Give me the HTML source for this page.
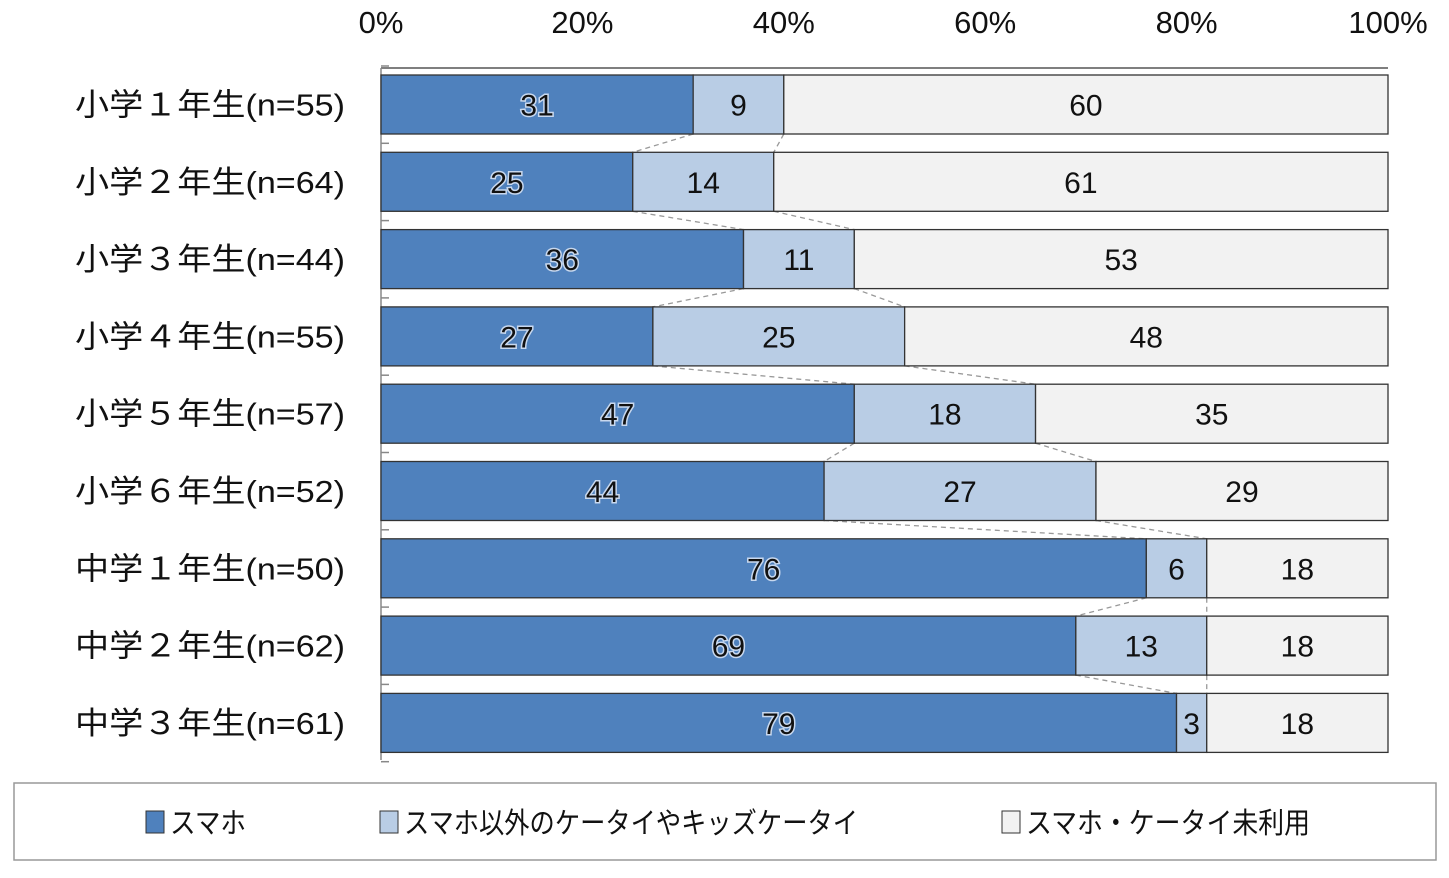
<!DOCTYPE html>
<html><head><meta charset="utf-8"><style>
body{margin:0;background:#fff;}
svg text{font-family:"Liberation Sans","Noto Sans CJK JP",sans-serif;}
</style></head><body>
<svg id="chart" width="1449" height="873" viewBox="0 0 1449 873" xmlns="http://www.w3.org/2000/svg">
<g id="plot"></g>
<g>
<rect x="14" y="783" width="1422" height="77" fill="#fff" stroke="#999" stroke-width="1.5"/>
<g><rect x="146" y="811" width="18" height="22" fill="#4f81bd" stroke="#333"/><text x="170" y="833" font-size="29" fill="#111" textLength="76" lengthAdjust="spacingAndGlyphs">スマホ</text></g>
<g><rect x="380" y="811" width="18" height="22" fill="#b9cde5" stroke="#333"/><text x="404" y="833" font-size="29" fill="#111" textLength="454" lengthAdjust="spacingAndGlyphs">スマホ以外のケータイやキッズケータイ</text></g>
<g><rect x="1002" y="811" width="18" height="22" fill="#f2f2f2" stroke="#333"/><text x="1026" y="833" font-size="29" fill="#111" textLength="284" lengthAdjust="spacingAndGlyphs">スマホ・ケータイ未利用</text></g>
</g>
</svg>
<script>
const categories=["小学１年生(n=55)","小学２年生(n=64)","小学３年生(n=44)","小学４年生(n=55)","小学５年生(n=57)","小学６年生(n=52)","中学１年生(n=50)","中学２年生(n=62)","中学３年生(n=61)"];
const smartphone=[31,25,36,27,47,44,76,69,79];
const otherPhone=[9,14,11,25,18,27,6,13,3];
const noPhone=[60,61,53,48,35,29,18,18,18];
const ticks=[0,20,40,60,80,100];
const tickLabels=["0%","20%","40%","60%","80%","100%"];

const NS="http://www.w3.org/2000/svg";
const g=document.getElementById('plot');
const X0=381,X1=1388,Y0=75,STEP=77.3,BH=59;
const x=v=>X0+(X1-X0)*v/100;
const y=i=>Y0+i*STEP;
function mk(t,a){const e=document.createElementNS(NS,t);for(const k in a)e.setAttribute(k,a[k]);g.appendChild(e);return e;}

let ax=mk('line',{x1:X0,y1:68,x2:X1,y2:68,stroke:'#555','stroke-width':1.5});


let ay=mk('line',{x1:X0,y1:68,x2:X0,y2:760,stroke:'#888','stroke-width':1.5});


ticks.forEach((t,i)=>{
  const e=mk('text',{x:x(t),y:33,'font-size':31,'text-anchor':'middle',fill:'#111'});
  e.textContent=tickLabels[i];
  
  
});
for(let i=0;i<=categories.length;i++){
  const tk=mk('line',{x1:X0,y1:y(i)-9,x2:X0+8,y2:y(i)-9,stroke:'#888','stroke-width':1.5});
  
  
}
for(let i=0;i<categories.length-1;i++){
  const a1=smartphone[i],a2=smartphone[i]+otherPhone[i];
  const b1=smartphone[i+1],b2=smartphone[i+1]+otherPhone[i+1];
  [[a1,b1],[a2,b2]].forEach(([p,q])=>{
    const l=mk('line',{x1:x(p),y1:y(i)+BH,x2:x(q),y2:y(i+1),stroke:'#999','stroke-width':1.3,'stroke-dasharray':'5,4'});
    
    
  });
}
const series=[[smartphone,'#4f81bd','smartphone'],[otherPhone,'#b9cde5','other-phone'],[noPhone,'#f2f2f2','no-phone']];
categories.forEach((c,i)=>{
  const lb=mk('text',{x:75,y:y(i)+BH/2+11,'font-size':31,fill:'#111',textLength:270,lengthAdjust:'spacingAndGlyphs'});
  lb.textContent=c;
  
  
  let acc=0;
  series.forEach(([arr,col,nm])=>{
    const v=arr[i];
    const r=mk('rect',{x:x(acc),y:y(i),width:x(acc+v)-x(acc),height:BH,fill:col,stroke:'#333','stroke-width':1.3});
    
    
    const t=mk('text',{x:(x(acc)+x(acc+v))/2,y:y(i)+BH/2+11,'font-size':30,'text-anchor':'middle',fill:'#111'});
    if(nm==='smartphone'){t.setAttribute('stroke','#c8d8ee');t.setAttribute('stroke-width','3');t.setAttribute('paint-order','stroke');}
    t.textContent=v;
    
    
    acc+=v;
  });
});
</script>
</body></html>
